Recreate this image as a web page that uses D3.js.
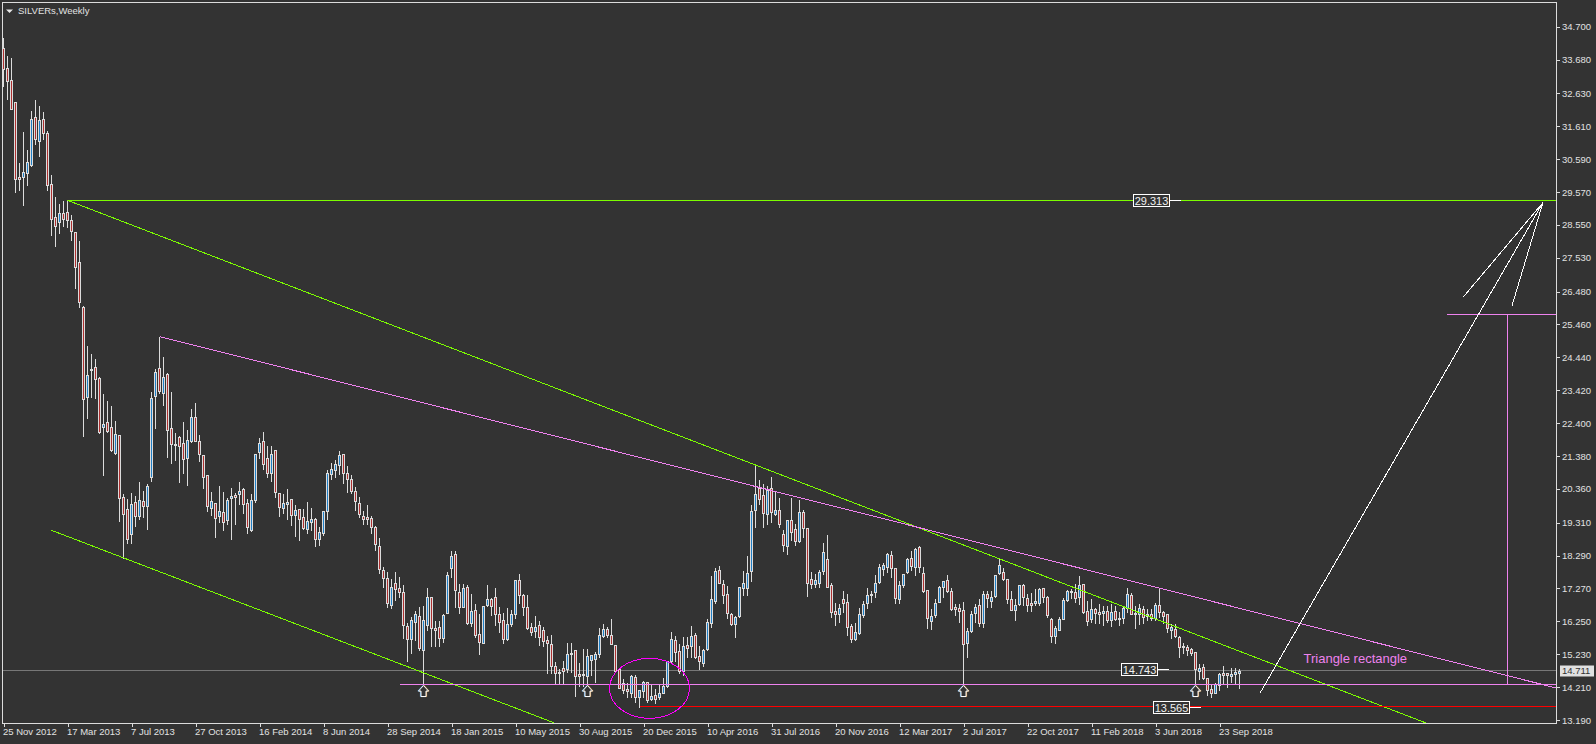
<!DOCTYPE html>
<html>
<head>
<meta charset="utf-8">
<title>SILVERs,Weekly</title>
<script src="https://d3js.org/d3.v7.min.js"></script>
<style>
    html, body { margin: 0; padding: 0; background: #333333; overflow: hidden; }
    svg { display: block; }
    text { font-family: "Liberation Sans", sans-serif; }
</style>
</head>
<body>
<svg id="chart" width="1596" height="744"></svg>
<script>
// Weekly bars, one value per week starting 25 Nov 2012
const open = [
    34.03,33.41,33.04,32.36,30.03,30.03,30.15,30.40,31.89,31.15,
    31.83,31.40,29.81,28.79,28.63,28.91,28.94,28.70,28.32,27.39,
    26.00,23.21,24.07,24.13,23.79,22.27,22.43,22.27,21.47,22.03,
    20.10,19.73,18.95,19.95,19.51,19.98,19.82,20.72,23.24,24.10,
    23.33,23.92,22.24,21.75,21.96,21.78,21.31,21.84,22.58,21.84,
    21.40,20.78,19.76,19.92,19.51,19.64,19.39,20.07,20.16,20.20,
    20.35,19.92,19.08,20.01,21.50,21.84,21.31,20.85,21.56,20.23,
    19.76,19.89,20.04,19.54,19.73,19.48,19.11,19.33,19.42,18.80,
    18.99,19.67,20.82,20.94,21.07,21.44,20.85,20.66,20.29,19.92,
    19.51,19.48,19.45,19.17,18.58,17.84,17.59,16.75,17.43,17.28,
    17.16,16.10,15.70,16.22,16.41,15.36,16.13,17.00,16.04,16.07,
    15.73,16.50,17.90,18.33,17.16,16.69,17.31,16.19,16.60,15.85,
    15.57,16.75,16.94,17.00,16.47,16.29,15.70,16.16,16.47,17.53,
    17.06,16.69,16.07,15.95,16.13,15.98,15.67,15.54,14.86,14.67,
    14.80,14.77,15.23,15.36,14.61,14.61,14.55,15.05,15.08,15.23,
    15.79,16.01,15.82,15.51,14.77,14.33,14.15,14.02,14.52,13.90,
    14.06,14.36,13.84,13.96,13.90,14.02,14.24,15.02,15.67,15.33,
    14.71,15.51,15.48,15.82,15.17,14.95,15.39,16.19,16.88,17.84,
    17.40,17.09,16.47,16.16,16.41,17.28,17.28,17.81,19.70,20.38,
    20.16,19.58,20.38,19.58,19.70,18.95,18.58,19.39,19.11,18.74,
    19.64,19.14,17.56,17.40,17.43,17.81,18.18,17.37,16.57,16.47,
    16.94,16.85,16.10,15.70,15.88,16.44,16.81,17.06,17.16,17.47,
    17.87,17.93,18.30,17.90,16.94,17.37,17.78,18.21,17.93,18.55,
    17.75,17.22,16.26,16.44,16.85,17.31,17.53,17.19,16.69,16.66,
    16.60,15.57,15.95,16.50,16.75,16.19,17.09,16.88,17.03,17.75,
    17.78,17.56,16.94,16.60,16.78,17.37,16.97,16.81,16.81,16.81,
    17.28,17.00,16.32,15.79,15.98,16.32,16.91,17.16,17.16,17.00,
    17.40,16.57,16.32,16.63,16.53,16.50,16.57,16.29,16.57,16.35,
    16.35,16.66,17.06,16.50,16.47,16.63,16.47,16.47,16.35,16.75,
    16.53,16.47,15.98,16.01,15.76,15.48,15.45,15.39,15.29,14.71,
    14.83,14.49,14.15,14.02,14.27,14.64,14.64,14.55,14.61,14.64
];
const high = [
    34.37,33.81,33.75,32.36,30.47,31.46,30.90,32.11,32.45,32.26,
    32.08,31.49,30.12,29.44,29.22,29.32,29.32,28.88,28.36,28.05,
    26.06,24.82,24.57,24.41,23.85,23.32,23.11,22.96,22.49,22.06,
    20.23,20.07,20.26,20.17,20.60,20.32,20.54,23.39,24.10,25.10,
    24.47,23.98,23.39,22.12,22.03,22.46,22.21,22.86,23.05,22.06,
    21.44,20.78,20.29,19.95,20.48,20.29,20.10,20.41,20.26,20.60,
    20.41,20.07,20.23,21.44,21.96,22.15,21.72,21.72,21.59,20.23,
    20.23,20.38,20.07,19.88,19.73,19.76,19.98,19.79,19.48,19.20,
    19.70,20.97,21.19,21.28,21.56,21.44,21.09,20.81,20.44,20.13,
    19.70,19.88,19.54,19.23,18.86,17.96,17.81,17.59,17.81,17.65,
    17.40,16.22,16.41,16.60,16.72,16.75,17.31,17.00,16.29,16.29,
    16.48,17.81,18.46,18.46,17.43,17.43,17.40,17.12,16.81,16.48,
    16.75,17.40,17.00,17.31,16.72,16.53,16.69,16.63,17.56,17.75,
    17.12,17.09,16.22,16.44,16.29,16.10,15.82,15.85,15.02,14.80,
    15.05,15.60,15.60,15.39,14.98,15.42,15.42,15.20,15.33,16.07,
    16.19,16.10,16.35,15.54,14.80,14.49,14.36,14.61,14.61,14.12,
    14.43,14.36,14.33,14.18,14.33,14.52,15.05,15.95,15.82,15.57,
    15.79,15.79,16.13,15.91,15.51,15.42,16.35,17.68,17.93,17.99,
    17.56,17.37,16.53,16.44,17.34,17.84,18.30,19.88,21.09,20.66,
    20.54,20.48,20.75,20.32,20.10,19.11,19.39,20.10,19.30,20.04,
    19.73,19.14,17.81,17.75,17.87,18.70,18.95,17.47,16.85,16.81,
    17.22,17.12,16.19,16.22,16.69,16.91,17.31,17.22,17.71,18.06,
    18.09,18.39,18.46,17.93,17.53,17.75,18.24,18.46,18.55,18.61,
    17.96,17.22,16.66,16.97,17.37,17.53,17.71,17.31,16.81,16.81,
    16.88,16.07,16.60,16.81,16.97,17.22,17.22,17.22,17.71,18.21,
    17.93,17.59,17.22,16.97,17.37,17.43,17.12,17.15,17.28,17.31,
    17.31,17.06,16.38,16.13,16.41,17.00,17.25,17.28,17.43,17.68,
    17.43,16.91,16.97,16.69,16.81,16.75,16.75,16.81,16.75,16.57,
    16.75,17.31,17.15,16.75,16.81,16.75,16.66,16.66,16.85,17.28,
    16.60,16.48,16.19,16.19,15.82,15.60,15.54,15.45,15.29,14.95,
    14.95,14.52,14.33,14.36,14.67,14.89,14.67,14.83,14.83,14.80
];
const low = [
    32.85,32.45,32.14,29.54,29.63,29.16,29.78,30.37,31.05,30.68,
    31.21,29.63,28.23,27.89,28.29,28.51,28.48,28.05,26.59,26.00,
    21.99,22.55,23.21,23.17,22.09,20.79,22.12,21.53,21.43,19.36,
    18.21,18.68,18.68,19.20,19.42,19.48,19.11,20.60,22.24,23.33,
    22.95,21.34,21.16,21.25,20.57,20.85,20.48,21.81,21.84,21.22,
    20.38,19.67,19.54,18.86,19.33,19.08,19.27,18.80,19.27,19.89,
    19.61,18.99,19.05,19.95,21.31,20.97,20.72,20.60,20.10,19.51,
    19.61,19.42,19.23,18.89,18.77,19.11,18.99,19.08,18.58,18.61,
    18.92,19.42,20.66,20.72,20.82,20.54,20.26,20.23,19.70,19.48,
    19.27,19.27,18.99,18.46,17.75,17.31,16.69,16.66,16.91,17.00,
    15.73,15.02,15.26,15.67,15.36,14.30,15.98,15.48,15.48,15.48,
    15.60,16.50,17.62,16.69,16.50,16.69,16.16,16.10,15.76,15.23,
    15.57,16.72,16.44,16.13,15.92,15.57,15.67,16.10,16.35,16.81,
    16.44,16.01,15.82,15.76,15.51,15.48,14.64,14.64,14.33,14.33,
    14.30,14.67,14.67,13.93,14.24,14.24,14.24,14.58,14.36,15.14,
    15.76,15.76,15.54,14.67,14.18,14.02,13.90,13.90,13.74,13.59,
    13.90,13.74,13.81,13.71,13.84,14.00,14.21,14.98,15.02,14.64,
    14.58,15.14,15.14,15.11,14.77,14.86,15.36,16.07,16.81,17.43,
    16.81,16.35,16.13,15.76,16.38,17.06,17.06,17.50,19.17,19.86,
    19.17,19.27,19.33,19.54,19.17,18.43,18.33,18.77,18.61,18.70,
    18.86,17.03,17.28,17.31,17.31,17.71,17.31,16.38,16.13,16.22,
    16.53,15.82,15.60,15.67,15.85,16.38,16.66,16.85,17.00,17.43,
    17.68,17.78,17.62,16.81,16.81,17.31,17.75,17.84,17.68,17.78,
    17.16,16.04,16.01,16.38,16.85,17.00,17.16,16.60,16.44,16.22,
    14.30,15.14,15.92,16.22,16.10,16.07,16.69,16.69,17.00,17.71,
    17.53,16.81,16.60,16.29,16.75,16.75,16.57,16.57,16.75,16.75,
    16.85,16.38,15.60,15.57,15.98,16.32,16.88,16.97,16.85,16.78,
    16.50,16.13,16.22,16.19,16.19,16.13,16.22,16.10,16.29,16.13,
    16.19,16.53,16.47,16.04,16.16,16.19,16.29,16.29,16.29,16.38,
    16.19,15.92,15.73,15.76,15.14,15.26,15.20,15.20,14.30,14.46,
    14.46,13.96,13.90,14.00,14.12,14.33,14.21,14.36,14.33,14.18
];
const close = [
    33.38,33.01,32.14,29.97,29.97,30.18,30.47,31.83,31.21,31.80,
    31.40,29.78,28.73,28.51,28.91,28.73,28.70,28.35,27.24,26.15,
    23.14,23.89,24.04,23.76,22.12,22.37,22.15,21.56,22.06,20.07,
    19.58,18.80,19.88,19.51,20.01,19.82,20.44,23.17,23.98,23.39,
    23.82,22.18,21.75,21.72,21.69,21.28,21.87,22.58,21.84,21.44,
    20.72,19.82,19.98,19.45,19.67,19.33,20.01,20.13,20.10,20.29,
    19.86,19.17,20.01,21.44,21.78,21.13,20.85,21.44,20.26,19.79,
    19.92,19.95,19.54,19.70,19.42,19.14,19.36,19.42,18.80,19.02,
    19.67,20.85,20.97,21.13,21.40,20.85,20.66,20.29,19.98,19.58,
    19.42,19.42,19.17,18.64,17.87,17.59,16.81,17.31,17.25,17.16,
    16.13,15.70,16.29,16.47,15.42,16.29,17.00,16.04,15.98,15.73,
    16.44,17.68,18.27,17.22,16.69,17.28,16.19,16.57,15.82,15.60,
    16.72,16.94,16.72,16.47,16.22,15.70,16.16,16.47,17.53,17.06,
    16.69,16.04,15.92,16.07,15.76,15.64,15.57,14.86,14.64,14.64,
    14.71,15.23,15.26,14.55,14.55,14.58,15.17,15.20,15.23,15.82,
    16.01,15.82,15.54,14.71,14.18,14.12,14.06,14.55,13.90,14.09,
    14.36,13.78,13.93,13.84,14.02,14.24,15.02,15.70,15.29,14.71,
    15.48,15.42,15.79,15.14,15.02,15.36,16.22,16.94,17.81,17.43,
    17.06,16.50,16.16,16.38,17.31,17.43,17.75,19.67,20.20,20.04,
    19.61,20.32,19.64,19.70,19.27,18.61,19.39,19.02,18.74,19.64,
    19.14,17.43,17.40,17.53,17.78,18.39,17.31,16.53,16.47,16.66,
    16.81,16.07,15.70,15.92,16.47,16.78,17.06,17.09,17.43,17.93,
    17.99,18.33,17.90,16.97,17.37,17.71,18.18,17.96,18.49,17.93,
    17.19,16.35,16.41,16.81,17.31,17.50,17.19,16.63,16.63,16.57,
    15.54,15.95,16.47,16.69,16.19,17.09,16.97,17.00,17.68,17.99,
    17.56,16.94,16.60,16.75,17.37,17.00,16.75,16.75,16.88,17.25,
    17.00,16.44,15.79,16.04,16.32,16.91,17.19,17.19,16.97,17.37,
    16.53,16.26,16.63,16.50,16.47,16.57,16.29,16.53,16.32,16.32,
    16.66,17.09,16.47,16.47,16.66,16.38,16.41,16.35,16.75,16.53,
    16.41,16.04,16.07,15.79,15.45,15.45,15.36,15.26,14.77,14.80,
    14.49,14.12,14.02,14.30,14.61,14.58,14.58,14.61,14.67,14.71
];

const dateLabels = ["25 Nov 2012","17 Mar 2013","7 Jul 2013","27 Oct 2013","16 Feb 2014","8 Jun 2014","28 Sep 2014","18 Jan 2015","10 May 2015","30 Aug 2015","20 Dec 2015","10 Apr 2016","31 Jul 2016","20 Nov 2016","12 Mar 2017","2 Jul 2017","22 Oct 2017","11 Feb 2018","3 Jun 2018","23 Sep 2018"];
const dateTicks = [0,16,32,48,64,80,96,112,128,144,160,176,192,208,224,240,256,272,288,304];
const priceTicks = [34.7,33.68,32.63,31.61,30.59,29.57,28.55,27.53,26.48,25.46,24.44,23.42,22.4,21.38,20.36,19.31,18.29,17.27,16.25,15.23,14.21,13.19];

// Drawn objects: [bar index, price] pairs, bar index may run past the last bar
const greenLines = [
    [[16, 29.313], [388.3, 29.313]],
    [[16, 29.313], [356.2, 13.07]],
    [[11.9, 19.08], [137.5, 13.11]]
];
const violetLines = [
    [[39.2, 25.08], [388.3, 14.18]],
    [[99, 14.29], [388.3, 14.29]],
    [[360.9, 25.77], [388.3, 25.77]],
    [[376, 25.77], [376, 14.29]]
];
const redLines = [[[159, 13.6], [388.3, 13.6]]];
const whiteLines = [
    [[314.2, 14.04], [384.85, 29.24]],
    [[365, 26.32], [384.85, 29.24]],
    [[377.1, 26.03], [384.85, 29.24]]
];
const arrowBars = [105, 146, 240, 298];
const arrowPrice = 14.29;
const circleCentre = [161.5, 14.17];
const circleRadius = [10, 0.93];
const lastPrice = 14.711;
const priceTags = [
    { text: "29.313", bar: 282.5, price: 29.313 },
    { text: "14.743", bar: 279.5, price: 14.743 },
    { text: "13.565", bar: 287.5, price: 13.565 }
];
const noteText = "Triangle rectangle";
const noteBar = 325;
const notePrice = 14.96;
const chartTitle = "SILVERs,Weekly";

const frame = { left: 2.5, top: 2.5, right: 1556.5, bottom: 723.5 };
const textColor = "#e2e2e2";
const lineColor = "#dcdcdc";

const svg = d3.select("#chart");
const x = d3.scaleLinear().domain([0, 309]).range([3.5, 1239.5]);
const y = d3.scaleLinear().domain([13.19, 29.57]).range([720, 192]);

// snap to the pixel grid so wicks and bodies stay sharp
const snap = v => Math.round(v - 0.5) + 0.5;

svg.append("defs").append("clipPath").attr("id", "plot")
    .append("rect")
    .attr("x", frame.left).attr("y", frame.top)
    .attr("width", frame.right - frame.left).attr("height", frame.bottom - frame.top);

const plot = svg.append("g").attr("clip-path", "url(#plot)");

// current price line goes under the bars
plot.append("line")
    .attr("x1", frame.left).attr("x2", frame.right)
    .attr("y1", snap(y(lastPrice))).attr("y2", snap(y(lastPrice)))
    .attr("stroke", "#777777").attr("shape-rendering", "crispEdges");

const candles = plot.append("g").attr("shape-rendering", "crispEdges")
    .selectAll("g")
    .data(d3.range(open.length))
    .join("g");

candles.append("line")
    .attr("x1", i => snap(x(i))).attr("x2", i => snap(x(i)))
    .attr("y1", i => snap(y(high[i]))).attr("y2", i => snap(y(low[i])) + 0.5)
    .attr("stroke", lineColor);

candles.append("rect")
    .attr("x", i => snap(x(i)) - 1)
    .attr("width", 2)
    .attr("y", i => snap(y(Math.max(open[i], close[i]))))
    .attr("height", i => Math.max(1, snap(y(Math.min(open[i], close[i]))) - snap(y(Math.max(open[i], close[i])))))
    .attr("fill", i => close[i] >= open[i] ? "#1f7fc6" : "#ad2f2f")
    .attr("stroke", lineColor);

const lineGen = d3.line().x(d => x(d[0])).y(d => y(d[1]));

function drawLines(lines, color) {
    plot.append("g")
        .selectAll("path")
        .data(lines)
        .join("path")
        .attr("d", lineGen)
        .attr("fill", "none")
        .attr("stroke", color)
        .attr("stroke-width", 1)
        .attr("shape-rendering", "crispEdges");
}

drawLines(greenLines, "#7cfc00");
drawLines(violetLines, "#ee82ee");
drawLines(redLines, "#ff0000");
drawLines(whiteLines, "#ffffff");

plot.append("ellipse")
    .attr("cx", x(circleCentre[0]))
    .attr("cy", y(circleCentre[1]))
    .attr("rx", x(circleRadius[0]) - x(0))
    .attr("ry", y(circleCentre[1] - circleRadius[1]) - y(circleCentre[1]))
    .attr("fill", "none")
    .attr("stroke", "#ff00ff")
    .attr("shape-rendering", "crispEdges");

// hollow up arrows under the support touches
const arrowPath = "M0,0 L5,5.5 L2.5,5.5 L2.5,11 L-2.5,11 L-2.5,5.5 L-5,5.5 Z";
const arrows = plot.append("g")
    .selectAll("g")
    .data(arrowBars)
    .join("g")
    .attr("transform", d => `translate(${snap(x(d))},${y(arrowPrice) + 1})`);
arrows.append("path").attr("d", arrowPath).attr("transform", "translate(-0.6,0)")
    .attr("fill", "none").attr("stroke", "#4a9be0").attr("stroke-width", 1);
arrows.append("path").attr("d", arrowPath).attr("transform", "translate(0.6,0)")
    .attr("fill", "none").attr("stroke", "#e0a050").attr("stroke-width", 1);
arrows.append("path").attr("d", arrowPath)
    .attr("fill", "#333333").attr("stroke", "#ffffff").attr("stroke-width", 1);

plot.append("text")
    .attr("x", x(noteBar)).attr("y", y(notePrice))
    .attr("fill", "#ee82ee")
    .attr("font-size", 13)
    .text(noteText);

// price tags on the chart with their small tails
const tags = svg.append("g")
    .selectAll("g")
    .data(priceTags)
    .join("g")
    .attr("transform", d => `translate(${snap(x(d.bar))},${snap(y(d.price))})`);
tags.append("line")
    .attr("x1", 36).attr("x2", 47).attr("y1", 0).attr("y2", 0)
    .attr("stroke", "#ffffff").attr("shape-rendering", "crispEdges");
tags.append("rect")
    .attr("x", 0).attr("y", -6).attr("width", 36).attr("height", 12)
    .attr("fill", "#333333").attr("stroke", "#ffffff").attr("shape-rendering", "crispEdges");
tags.append("text")
    .attr("x", 18).attr("y", 4)
    .attr("text-anchor", "middle")
    .attr("fill", "#f0f0f0")
    .attr("font-size", 11)
    .text(d => d.text);

// frame and axes
svg.append("rect")
    .attr("x", frame.left).attr("y", frame.top)
    .attr("width", frame.right - frame.left).attr("height", frame.bottom - frame.top)
    .attr("fill", "none").attr("stroke", lineColor).attr("shape-rendering", "crispEdges");

const yAxis = d3.axisRight(y)
    .tickValues(priceTicks)
    .tickFormat(d3.format(".3f"))
    .tickSize(3)
    .tickPadding(2.5);

const xAxis = d3.axisBottom(x)
    .tickValues(dateTicks)
    .tickFormat((d, i) => dateLabels[i])
    .tickSize(3)
    .tickPadding(2);

const yG = svg.append("g").attr("transform", `translate(${frame.right},0)`).call(yAxis);
const xG = svg.append("g").attr("transform", `translate(0,${frame.bottom})`).call(xAxis);

[yG, xG].forEach(g => {
    g.select(".domain").remove();
    g.selectAll(".tick line").attr("stroke", lineColor).attr("shape-rendering", "crispEdges");
    g.selectAll(".tick text").attr("fill", textColor).attr("font-size", 9.5)
        .attr("font-family", "\"Liberation Sans\", sans-serif");
});
xG.selectAll(".tick text").attr("text-anchor", "start").attr("x", -1);

// last price box on the axis
const lastBox = svg.append("g").attr("transform", `translate(0,${snap(y(lastPrice))})`);
lastBox.append("rect")
    .attr("x", 1560).attr("y", -5).attr("width", 34).attr("height", 11)
    .attr("fill", "#e0e0e0");
lastBox.append("text")
    .attr("x", 1562).attr("y", 3.5)
    .attr("fill", "#333333").attr("font-size", 9.5)
    .text(d3.format(".3f")(lastPrice));

// title with the small menu triangle
svg.append("path").attr("d", "M6,9.5 L13,9.5 L9.5,13 Z").attr("fill", "#e6e6e6");
svg.append("text")
    .attr("x", 18).attr("y", 14)
    .attr("fill", textColor).attr("font-size", 9.5)
    .text(chartTitle);
</script>
</body>
</html>
